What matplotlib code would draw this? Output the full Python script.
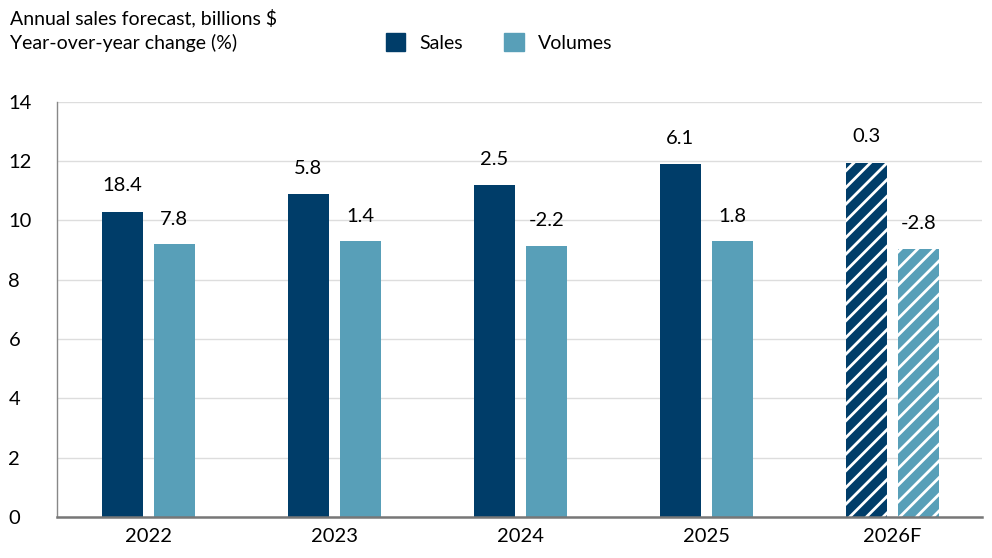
import numpy as np
import matplotlib
matplotlib.use('Agg')
from matplotlib import pyplot as plt

# Chart data
years = ['2022', '2023', '2024', '2025', '2026F']
sales = [10.3, 10.9, 11.2, 11.9, 11.95]
volumes = [9.2, 9.3, 9.15, 9.3, 9.05]
sales_change = ['18.4', '5.8', '2.5', '6.1', '0.3']
volume_change = ['7.8', '1.4', '-2.2', '1.8', '-2.8']
forecast = [False, False, False, False, True]

navy = '#003d69'
teal = '#589fb8'

plt.rcParams['font.family'] = ['Lato', 'DejaVu Sans']
plt.rcParams['hatch.linewidth'] = 2.0

fig = plt.figure(figsize=(9.92, 5.58), dpi=100)
ax = fig.add_axes([0.0575, 0.0735, 0.932, 0.744])

x = np.arange(len(years))
width = 0.22
offset = 0.14

for i in range(len(years)):
    hatch = '//' if forecast[i] else None
    ec = 'white' if forecast[i] else 'none'
    ax.bar(x[i] - offset, sales[i], width, color=navy, hatch=hatch,
           edgecolor=ec, linewidth=0, zorder=3)
    ax.bar(x[i] + offset, volumes[i], width, color=teal, hatch=hatch,
           edgecolor=ec, linewidth=0, zorder=3)
    # Year-over-year labels above bars
    ax.annotate(sales_change[i], (x[i] - offset, sales[i]), xytext=(0, 18.5),
                textcoords='offset points', ha='center', va='center',
                fontsize=14.5, color='black')
    ax.annotate(volume_change[i], (x[i] + offset, volumes[i]), xytext=(0, 18),
                textcoords='offset points', ha='center', va='center',
                fontsize=14.5, color='black')

ax.set_xlim(-0.49, 4.48)
ax.set_ylim(0, 14)
ax.set_yticks(range(0, 15, 2))
ax.set_xticks(x)
ax.set_xticklabels(years)

ax.grid(axis='y', color='#dddddd', linewidth=1, zorder=0)
ax.set_axisbelow(True)
for s in ['top', 'right']:
    ax.spines[s].set_visible(False)
ax.spines['left'].set_color('#888888')
ax.spines['left'].set_linewidth(1)
ax.spines['bottom'].set_color('#777777')
ax.spines['bottom'].set_linewidth(1.8)
ax.spines['bottom'].set_zorder(4)

ax.tick_params(axis='y', length=0, pad=35, labelsize=14.5)
for lbl in ax.get_yticklabels():
    lbl.set_horizontalalignment('left')
ax.tick_params(axis='x', length=0, pad=8, labelsize=14.5)

# Header text
fig.text(0.01, 0.968, 'Annual sales forecast, billions $', fontsize=14,
         va='center', ha='left')
fig.text(0.01, 0.923, 'Year-over-year change (%)', fontsize=14,
         va='center', ha='left')

# Legend
handles = [plt.Rectangle((0, 0), 1, 1, color=navy),
           plt.Rectangle((0, 0), 1, 1, color=teal)]
fig.legend(handles, ['Sales', 'Volumes'], loc='center left',
           bbox_to_anchor=(0.379, 0.924), ncol=2, frameon=False,
           fontsize=14, handlelength=1.0, handleheight=1.0,
           handletextpad=0.75, columnspacing=2.1, borderpad=0)

fig.savefig('out.png', dpi=100)
